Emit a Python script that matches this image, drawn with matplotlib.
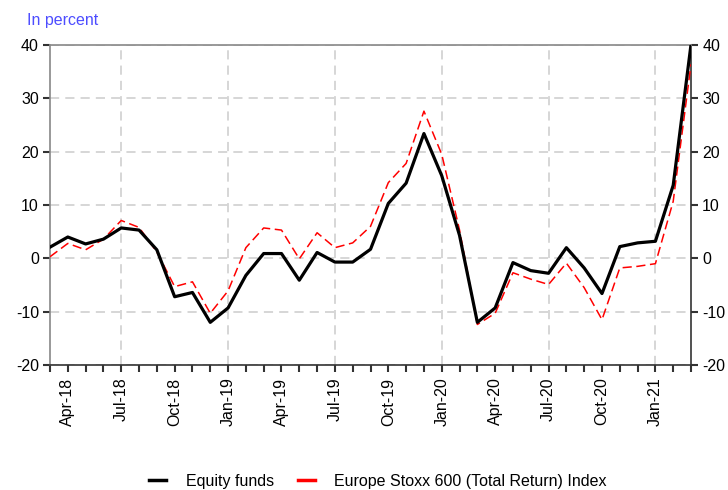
import matplotlib.pyplot as plt
from matplotlib.lines import Line2D
import pandas as pd

plt.rcParams['font.family'] = ['Liberation Sans', 'DejaVu Sans']
plt.rcParams['axes.unicode_minus'] = False

# Monthly data, Mar-18 .. Mar-21 (annual % change)
months = pd.date_range('2018-03-01', '2021-03-01', freq='MS')
equity_funds = [2.1, 4.0, 2.7, 3.6, 5.7, 5.3, 1.6, -7.2, -6.4, -12.0, -9.3, -3.2, 0.9,
                0.9, -4.1, 1.1, -0.7, -0.7, 1.7, 10.3, 14.1, 23.4, 15.5, 4.3, -12.0,
                -9.3, -0.8, -2.3, -2.8, 2.0, -1.8, -6.6, 2.2, 2.9, 3.2, 13.7, 40.1]
stoxx600 = [0.3, 2.8, 1.6, 3.6, 7.1, 5.8, 1.2, -5.3, -4.4, -10.3, -6.1, 2.0, 5.7,
            5.3, -0.1, 4.8, 2.0, 2.9, 6.0, 14.2, 17.8, 27.6, 19.5, 5.3, -12.4,
            -10.3, -2.7, -3.9, -4.9, -0.9, -5.5, -11.5, -1.8, -1.5, -1.0, 10.7, 36.4]
y_ticks = [-20, -10, 0, 10, 20, 30, 40]

x = list(range(len(months)))
labels = [m.strftime('%b-%y') for m in months]
fs = 11.5

fig = plt.figure(figsize=(7.28, 4.9), dpi=100)
ax = fig.add_axes([0.0687, 0.2551, 0.8805, 0.653])

# grid
for v in y_ticks:
    ax.axhline(v, color='#cccccc', lw=1.1, dashes=(6, 4), zorder=1)
for i, m in enumerate(months):
    if m.month in (1, 7):
        ax.axvline(i, color='#cccccc', lw=1.1, dashes=(6, 4), zorder=1)

ax.plot(x, stoxx600, color='#ff0000', lw=1.1, dashes=(6, 3), zorder=3)
ax.plot(x, equity_funds, color='black', lw=2.3, zorder=4)

ax.set_xlim(0, len(months) - 1)
ax.set_ylim(-20, 40)
ax.set_yticks(y_ticks)
ax.tick_params(axis='y', which='both', direction='out', length=5, width=1.5,
               color='#333333', labelsize=fs, right=True, labelright=True, pad=3)

ax.set_xticks(x)
ax.set_xticklabels([l if months[i].month in (1, 4, 7, 10) else '' for i, l in enumerate(labels)],
                   rotation=90, fontsize=fs)
ax.tick_params(axis='x', direction='out', length=5, width=1.5, color='#333333', pad=4)

ax.spines['left'].set_color('#888888')
ax.spines['top'].set_color('#888888')
ax.spines['bottom'].set_color('#333333')
ax.spines['right'].set_color('#333333')
for s in ax.spines.values():
    s.set_linewidth(1.2)

fig.text(0.037, 0.958, 'In percent', color='#4d4dff', fontsize=fs, va='center', ha='left')

handles = [Line2D([], [], color='black', lw=2.5),
           Line2D([], [], color='#ff0000', lw=2.5)]
fig.legend(handles, ['Equity funds', 'Europe Stoxx 600 (Total Return) Index'],
           loc='center', bbox_to_anchor=(0.519, 0.018), ncol=2,
           frameon=False, fontsize=fs, handlelength=1.1, columnspacing=1.5,
           handletextpad=1.2)

fig.savefig('out.png', dpi=100)
